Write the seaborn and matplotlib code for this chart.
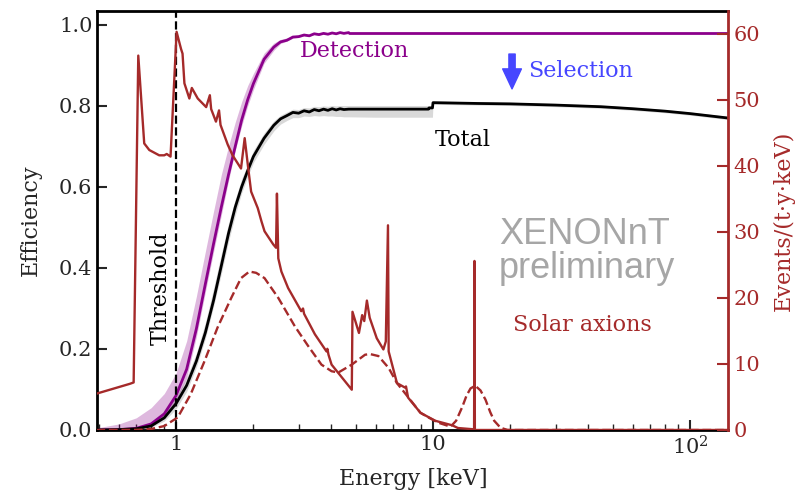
import numpy as np
import pandas as pd
import seaborn as sns
import matplotlib.pyplot as plt
from matplotlib.ticker import FixedLocator, FixedFormatter, NullFormatter, LogLocator

sns.set_style("ticks")
plt.rcParams["font.family"] = ["DejaVu Serif"]
plt.rcParams["mathtext.fontset"] = "dejavuserif"

RED = "#a52a2a"
PURPLE = "#8b008b"
BLUE = "#4646ff"

# ---- efficiency curves (energy in keV) ----
eff_energy = [0.49, 0.6, 0.7, 0.8, 0.9, 1.0, 1.1, 1.2, 1.3, 1.4, 1.5, 1.6, 1.7, 1.8, 1.9,
              2.0, 2.2, 2.4, 2.55, 2.7, 2.85, 3.0, 3.15, 3.3, 3.45, 3.6, 3.75, 3.9,
              4.05, 4.2, 4.35, 4.5, 4.7]
detection = [0.0, 0.001, 0.004, 0.015, 0.04, 0.085, 0.15, 0.25, 0.36, 0.46, 0.55, 0.63, 0.70,
             0.765, 0.815, 0.855, 0.915, 0.945, 0.958, 0.962, 0.970, 0.971, 0.975, 0.973,
             0.978, 0.976, 0.979, 0.977, 0.980, 0.978, 0.981, 0.979, 0.981]
detection_hi = [0.005, 0.015, 0.03, 0.055, 0.09, 0.14, 0.22, 0.33, 0.44, 0.54, 0.63, 0.70,
                0.76, 0.81, 0.85, 0.88, 0.93, 0.955, 0.964, 0.968, 0.973, 0.975, 0.977,
                0.977, 0.979, 0.979, 0.980, 0.980, 0.981, 0.981, 0.982, 0.982, 0.982]
detection_lo = [0.0, 0.0, 0.002, 0.01, 0.03, 0.07, 0.13, 0.23, 0.34, 0.44, 0.53, 0.615, 0.69,
                0.75, 0.80, 0.84, 0.905, 0.937, 0.954, 0.960, 0.967, 0.969, 0.973, 0.972,
                0.976, 0.975, 0.978, 0.976, 0.979, 0.977, 0.980, 0.978, 0.980]
det_tail_energy = [4.7, 141.0]
det_tail = [0.981, 0.981]

total_energy = [0.49, 0.6, 0.7, 0.8, 0.9, 1.0, 1.1, 1.2, 1.3, 1.4, 1.5, 1.6, 1.7, 1.8, 1.9,
                2.0, 2.2, 2.4, 2.55, 2.7, 2.85, 3.0, 3.15, 3.3, 3.45, 3.6, 3.75, 3.9,
                4.05, 4.2, 4.35, 4.5, 4.7, 6.0, 8.0, 9.6, 9.65, 9.95, 10.0, 15.0, 20.0,
                30.0, 45.0, 60.0, 80.0, 100.0, 141.0]
total = [0.0, 0.001, 0.003, 0.01, 0.03, 0.065, 0.11, 0.17, 0.24, 0.32, 0.405, 0.485, 0.55,
         0.60, 0.64, 0.675, 0.72, 0.752, 0.768, 0.776, 0.784, 0.782, 0.788, 0.785, 0.791,
         0.788, 0.792, 0.789, 0.793, 0.790, 0.793, 0.791, 0.792, 0.792, 0.792, 0.792,
         0.795, 0.795, 0.808, 0.806, 0.805, 0.802, 0.798, 0.793, 0.787, 0.781, 0.770]
total_hi = [0.0, 0.002, 0.006, 0.016, 0.04, 0.08, 0.13, 0.19, 0.265, 0.35, 0.435, 0.51,
            0.57, 0.62, 0.655, 0.69, 0.733, 0.763, 0.777, 0.785, 0.792, 0.791, 0.796,
            0.795, 0.799, 0.798, 0.800, 0.799, 0.801, 0.800, 0.801, 0.801, 0.801, 0.801,
            0.801, 0.801, 0.801, 0.801, 0.812, 0.810, 0.809, 0.806, 0.802, 0.797,
            0.791, 0.785, 0.774]
total_lo = [0.0, 0.0, 0.001, 0.006, 0.022, 0.052, 0.095, 0.155, 0.225, 0.305, 0.385, 0.465,
            0.53, 0.585, 0.625, 0.66, 0.705, 0.738, 0.755, 0.764, 0.771, 0.771, 0.775,
            0.774, 0.776, 0.775, 0.776, 0.775, 0.775, 0.774, 0.774, 0.773, 0.773, 0.772,
            0.772, 0.772, 0.772, 0.772, 0.804, 0.802, 0.801, 0.798, 0.794, 0.789,
            0.783, 0.777, 0.766]

# ---- solar axion rate, events/(t y keV) ----
axion_energy = [0.49, 0.662, 0.684, 0.713, 0.752, 0.787, 0.86, 0.90, 0.92, 0.952, 1.005,
                1.046, 1.06, 1.078, 1.127, 1.152, 1.215, 1.31, 1.354, 1.37, 1.43, 1.47,
                1.49, 1.59, 1.66, 1.79, 1.85, 1.91, 1.96, 2.08, 2.15, 2.21, 2.39, 2.45,
                2.47, 2.50, 2.57, 2.73, 3.07, 3.12, 3.15, 3.47, 3.85, 3.88, 3.92, 4.03,
                4.83, 4.86, 5.15, 5.30, 5.40, 5.53, 5.67, 6.04, 6.41, 6.55, 6.68, 6.72,
                7.24, 7.8, 7.85, 8.0, 8.94, 10.2, 11.9, 12.5, 14.45, 14.5, 14.55, 141.0]
axion_rate = [5.5, 7.0, 7.2, 56.7, 43.4, 42.4, 41.6, 41.6, 41.8, 41.4, 60.3,
              57.7, 57.0, 52.5, 50.2, 51.8, 50.2, 48.9, 50.7, 48.6, 46.7, 48.4,
              46.2, 43.2, 41.6, 39.6, 44.2, 39.6, 36.1, 33.6, 31.6, 30.1, 28.1, 27.6,
              35.8, 26.0, 24.0, 21.5, 18.0, 18.4, 17.6, 14.5, 11.9, 12.3, 11.4, 9.9,
              6.1, 17.9, 14.7, 17.4, 16.5, 19.6, 17.0, 13.9, 12.2, 13.4, 31.0, 11.9,
              7.1, 6.4, 6.6, 4.9, 2.6, 1.4, 0.7, 0.3, 0.1, 25.6, 0.0, 0.0]

smeared_energy = [0.49, 0.7, 0.8, 0.9, 1.015, 1.14, 1.29, 1.45, 1.64, 1.79, 1.93, 2.05,
                  2.21, 2.5, 2.9, 3.27, 3.68, 4.03, 4.28, 4.83, 5.44, 5.69, 6.13, 6.72,
                  7.24, 8.03, 8.94, 9.6, 10.5, 11.7, 12.3, 13.0, 13.5, 14.0, 14.6, 15.3,
                  16.0, 16.7, 17.3, 18.3, 19.5, 141.0]
smeared_rate = [0.0, 0.02, 0.15, 0.6, 1.9, 5.4, 10.4, 15.5, 20.0, 23.0, 24.0, 23.8,
                23.0, 20.0, 15.7, 12.7, 9.9, 8.9, 8.7, 9.9, 11.4, 11.5, 11.2, 9.4,
                7.1, 4.9, 2.6, 1.9, 1.1, 0.5, 1.4, 3.5, 5.2, 6.3, 6.7, 6.0,
                4.6, 2.7, 1.4, 0.35, 0.0, 0.0]

threshold_kev = 1.0

fig = plt.figure(figsize=(8.09, 4.93), dpi=100)
ax = fig.add_axes([0.1203, 0.1278, 0.78, 0.8505])
ax2 = ax.twinx()

# uncertainty bands
ax.fill_between(eff_energy, detection_lo, detection_hi, color=PURPLE, alpha=0.28, lw=0)
ax.fill_between(total_energy, total_lo, total_hi, color="k", alpha=0.15, lw=0)

# efficiency lines
sns.lineplot(x=eff_energy, y=detection, ax=ax, color=PURPLE, lw=2, sort=False, estimator=None)
sns.lineplot(x=det_tail_energy, y=det_tail, ax=ax, color=PURPLE, lw=2, sort=False, estimator=None)
sns.lineplot(x=total_energy, y=total, ax=ax, color="k", lw=2, sort=False, estimator=None)
ax.axvline(threshold_kev, color="k", ls="--", lw=1.6)

# axion spectra on the right axis
sns.lineplot(x=axion_energy, y=axion_rate, ax=ax2, color=RED, lw=1.7, sort=False, estimator=None)
sns.lineplot(x=smeared_energy, y=smeared_rate, ax=ax2, color=RED, lw=1.7, ls="--",
             sort=False, estimator=None)

ax.set_xscale("log")
ax.set_xlim(0.494, 141)
ax.set_ylim(0, 1.035)
ax2.set_ylim(0, 63.5)

ax.xaxis.set_major_locator(FixedLocator([1, 10, 100]))
ax.xaxis.set_major_formatter(FixedFormatter(["1", "10", r"$10^2$"]))
ax.xaxis.set_minor_locator(LogLocator(base=10, subs=np.arange(2, 10)))
ax.xaxis.set_minor_formatter(NullFormatter())
ax.set_yticks([0.0, 0.2, 0.4, 0.6, 0.8, 1.0])
ax.set_yticklabels(["0.0", "0.2", "0.4", "0.6", "0.8", "1.0"])
ax2.set_yticks([0, 10, 20, 30, 40, 50, 60])

ax.tick_params(which="major", direction="in", length=7, width=1.5, labelsize=15,
               top=False, right=False)
ax.tick_params(which="minor", direction="in", length=4, width=1.0, top=False, right=False)
ax.tick_params(axis="y", which="minor", left=False)
ax2.tick_params(axis="y", direction="in", length=8, width=1.5, labelsize=15,
                colors=RED)

for s in ["left", "bottom", "top"]:
    ax.spines[s].set_linewidth(2)
    ax.spines[s].set_color("k")
ax.spines["right"].set_visible(False)
for s in ["left", "bottom", "top"]:
    ax2.spines[s].set_visible(False)
ax2.spines["right"].set_color(RED)
ax2.spines["right"].set_linewidth(2)

ax.set_xlabel("Energy [keV]", fontsize=16, labelpad=7)
ax.set_ylabel("Efficiency", fontsize=16, labelpad=12)
ax2.set_ylabel("Events/(t·y·keV)", fontsize=16, color=RED, labelpad=9)

# annotations
ax.text(3.02, 0.935, "Detection", color=PURPLE, fontsize=16, ha="left", va="center")
ax.text(10.2, 0.715, "Total", color="k", fontsize=16, ha="left", va="center")
ax.text(23.5, 0.885, "Selection", color=BLUE, fontsize=16, ha="left", va="center")
ax.annotate("", xy=(20.3, 0.842), xytext=(20.3, 0.928),
            arrowprops=dict(arrowstyle="simple,head_width=0.75,head_length=0.8,tail_width=0.25",
                            color=BLUE, shrinkA=0, shrinkB=0, mutation_scale=18))
ax.text(0.875, 0.35, "Threshold", color="k", fontsize=16, rotation=90,
        ha="center", va="center")
ax.text(20.5, 0.26, "Solar axions", color=RED, fontsize=16, ha="left", va="center")
ax.text(18.1, 0.46, "XENONnT", color="#a6a6a6", fontsize=26, ha="left",
        va="baseline", family="Liberation Sans")
ax.text(18.1, 0.375, "preliminary", color="#a6a6a6", fontsize=26, ha="left",
        va="baseline", family="Liberation Sans")

fig.savefig("out.png", dpi=100)
